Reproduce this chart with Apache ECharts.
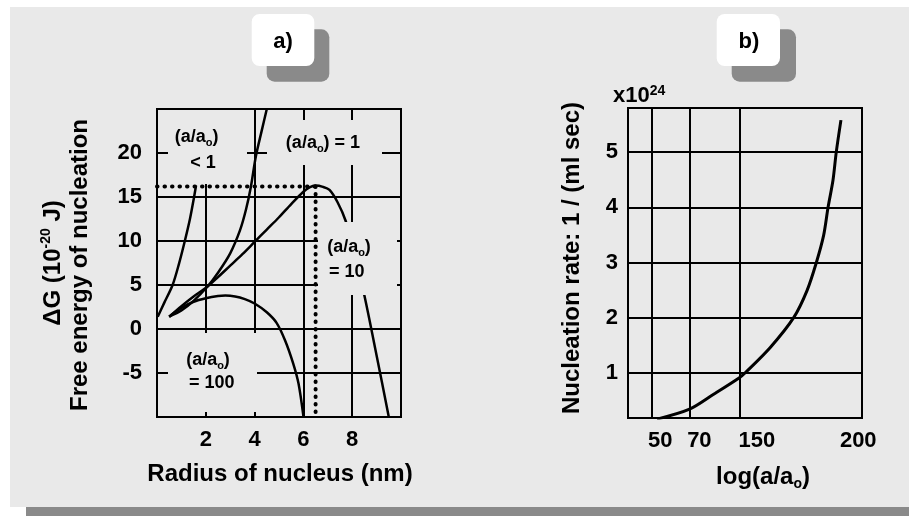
<!DOCTYPE html>
<html><head><meta charset="utf-8">
<script src="https://cdn.jsdelivr.net/npm/echarts@6/dist/echarts.min.js"></script>
<style>
html,body{margin:0;padding:0;background:#fff;}
#wrap{position:relative;width:909px;height:516px;overflow:hidden;background:#fff;}
#panel{position:absolute;left:10px;top:7px;width:899px;height:500px;background:#e9e9e9;}
#shadow{position:absolute;left:26px;top:507px;width:883px;height:9px;background:#8a8a8a;}
#chart{position:absolute;left:0;top:0;width:909px;height:516px;}
</style></head><body>
<div id="wrap"><div id="panel"></div><div id="shadow"></div><div id="chart"></div></div>
<script>
// ---------- Panel a) : free energy of nucleation vs radius ----------
const aXTicks = [2, 4, 6, 8];
const curveLess1 = [[0.03,1.4],[0.3,3.0],[0.64,5.0],[0.9,7.4],[1.14,10.0],[1.35,12.5],[1.52,15.0],[1.6,16.3]];
const curveEq1 = [[0.5,1.4],[1.0,2.1],[1.5,3.2],[2.06,4.8],[2.5,6.4],[3.0,8.6],[3.4,11.2],[3.65,13.6],[3.85,16.2],[4.05,19.6],[4.28,22.4],[4.5,25.0]];
const curveEq10 = [[0.5,1.4],[1.0,2.6],[1.5,3.7],[2.06,4.8],[2.5,5.9],[3.0,7.2],[3.5,8.5],[4.0,9.9],[4.5,11.3],[5.0,12.7],[5.5,14.2],[6.0,15.6],[6.25,16.1],[6.5,16.3],[6.8,16.15],[7.07,15.8],[7.4,14.4],[7.73,12.3],[8.1,8.5],[8.5,3.8],[9.0,-3.0],[9.5,-10.0]];
const curveEq100 = [[0.5,1.4],[1.0,2.4],[1.5,3.1],[2.0,3.5],[2.5,3.75],[2.8,3.8],[3.2,3.7],[3.6,3.4],[4.0,2.9],[4.5,1.9],[4.9,0.7],[5.25,-1.3],[5.58,-3.9],[5.8,-6.2],[6.0,-9.9]];
const critRadius = 6.5;
const critEnergy = 16.2;

// ---------- Panel b) : nucleation rate ----------
const bTickLabels = ['50', '70', '150', '200'];
const bLabelPos = [13.8, 30.5, 55.1, 98.4];   // label positions along the axis (0..100)
const bGridPos = [10.3, 26.3, 47.6];          // grid line positions along the axis (0..100)
const bYTicks = [1, 2, 3, 4, 5];
const rateCurve = [[12.4,0.16],[26.3,0.34],[36.6,0.61],[47.6,0.91],[50.1,1.0],[60.8,1.46],[70.8,2.0],[76.5,2.49],[80.5,3.0],[83.6,3.49],[85.5,4.0],[87.6,4.49],[89.0,5.0],[91.0,5.58]];

const FONT = '"Liberation Sans", Arial, Helvetica, sans-serif';
const BG = '#e9e9e9';
const tickLabel = {fontFamily: FONT, fontWeight: 'bold', fontSize: 22, color: '#000'};
const gridLine = {show: true, lineStyle: {color: '#000', width: 2}};

const richBase = {
  t: {fontFamily: FONT, fontWeight: 'bold', fontSize: 18, lineHeight: 22, fill: '#000'},
  s: {fontFamily: FONT, fontWeight: 'bold', fontSize: 11, lineHeight: 8, verticalAlign: 'bottom', fill: '#000'}
};
const richName = {
  t: {fontFamily: FONT, fontWeight: 'bold', fontSize: 24, lineHeight: 28, fill: '#000'},
  s: {fontFamily: FONT, fontWeight: 'bold', fontSize: 14, lineHeight: 10, verticalAlign: 'bottom', fill: '#000'},
  p: {fontFamily: FONT, fontWeight: 'bold', fontSize: 14, lineHeight: 14, verticalAlign: 'top', fill: '#000'}
};

function txt(x, y, text, rich, rot) {
  return {type: 'text', x: x, y: y, z: 101, rotation: rot || 0, silent: true,
    style: {text: text, rich: rich, fill: '#000', align: 'center', verticalAlign: 'middle',
      textAlign: 'center', textVerticalAlign: 'middle', font: 'bold 18px ' + FONT}};
}
function mask(x, y, w, h) {
  return {type: 'rect', z: 100, silent: true, shape: {x: x, y: y, width: w, height: h}, style: {fill: BG}};
}
function box(x, y, w, h, fill, z) {
  return {type: 'rect', z: z, silent: true, shape: {x: x, y: y, width: w, height: h, r: 8}, style: {fill: fill}};
}

const lineSeries = (data) => ({
  type: 'line', xAxisIndex: 0, yAxisIndex: 0, data: data, showSymbol: false, symbol: 'none',
  smooth: 0.3, clip: true, lineStyle: {color: '#000', width: 2.5}, z: 3
});
const dotted = (data) => ({
  type: 'line', xAxisIndex: 0, yAxisIndex: 0, data: data, showSymbol: false, symbol: 'none', clip: true,
  lineStyle: {color: '#000', width: 4, type: [0.5, 7], cap: 'round'}, z: 4
});

const chart = echarts.init(document.getElementById('chart'), null, {renderer: 'canvas'});
chart.setOption({
  backgroundColor: 'transparent',
  animation: false,
  grid: [
    {left: 157, top: 109, width: 244, height: 308, show: true, borderColor: '#000', borderWidth: 2, backgroundColor: 'transparent', containLabel: false, outerBoundsMode: 'none'},
    {left: 628, top: 108, width: 234, height: 310, show: true, borderColor: '#000', borderWidth: 2, backgroundColor: 'transparent', containLabel: false, outerBoundsMode: 'none'}
  ],
  xAxis: [
    {gridIndex: 0, type: 'value', min: 0, max: 10, interval: 2,
      axisLine: {show: false}, axisTick: {show: false},
      axisLabel: Object.assign({showMinLabel: false, showMaxLabel: false, margin: 12}, tickLabel),
      splitLine: gridLine},
    {gridIndex: 1, type: 'value', min: 0, max: 100,
      axisLine: {show: false}, axisTick: {show: false, customValues: bGridPos},
      axisLabel: Object.assign({customValues: bLabelPos, margin: 12,
        formatter: (v) => { const i = bLabelPos.indexOf(v); return i >= 0 ? bTickLabels[i] : ''; }}, tickLabel),
      splitLine: gridLine}
  ],
  yAxis: [
    {gridIndex: 0, type: 'value', min: -10, max: 25, interval: 5,
      axisLine: {show: false}, axisTick: {show: false},
      axisLabel: Object.assign({showMinLabel: false, showMaxLabel: false, margin: 15}, tickLabel),
      splitLine: gridLine},
    {gridIndex: 1, type: 'value', min: 0.18, max: 5.8,
      axisLine: {show: false}, axisTick: {show: false, customValues: bYTicks},
      axisLabel: Object.assign({customValues: bYTicks, margin: 10}, tickLabel),
      splitLine: gridLine}
  ],
  series: [
    lineSeries(curveLess1),
    lineSeries(curveEq1),
    lineSeries(curveEq10),
    lineSeries(curveEq100),
    dotted([[0, critEnergy], [critRadius, critEnergy]]),
    dotted([[critRadius, critEnergy], [critRadius, -10]]),
    {type: 'line', xAxisIndex: 1, yAxisIndex: 1, data: rateCurve, showSymbol: false, symbol: 'none',
      smooth: 0.3, clip: true, lineStyle: {color: '#000', width: 3}, z: 3}
  ],
  graphic: {elements: [
    // panel titles
    box(266.7, 29.3, 62.6, 52.4, '#8a8a8a', 90),
    box(251.7, 14, 62.6, 52, '#ffffff', 91),
    txt(283, 42, '{t|a)}', {t: {fontFamily: FONT, fontWeight: 'bold', fontSize: 22, fill: '#000'}}),
    box(731.7, 29.3, 64.3, 52.4, '#8a8a8a', 90),
    box(716.7, 14, 63.3, 52, '#ffffff', 91),
    txt(749, 42, '{t|b)}', {t: {fontFamily: FONT, fontWeight: 'bold', fontSize: 22, fill: '#000'}}),
    // curve label masks
    mask(168, 110, 79, 74),
    mask(267, 120, 115, 45),
    mask(318, 222, 79, 73),
    mask(168, 333, 89, 79),
    // curve labels
    txt(196.7, 137, '{t|(a/a}{s|o}{t|)}', richBase),
    txt(203, 163, '{t|< 1}', richBase),
    txt(323, 143, '{t|(a/a}{s|o}{t|) = 1}', richBase),
    txt(349, 247, '{t|(a/a}{s|o}{t|)}', richBase),
    txt(346.7, 272, '{t|= 10}', richBase),
    txt(208, 360, '{t|(a/a}{s|o}{t|)}', richBase),
    txt(211.7, 383, '{t|= 100}', richBase),
    // axis names
    txt(280, 474, '{t|Radius of nucleus (nm)}', richName),
    txt(763, 477, '{t|log(a/a}{s|o}{t|)}', richName),
    txt(53, 263, '{t|ΔG (10}{p|-20}{t| J)}', richName, Math.PI / 2),
    txt(80.5, 265, '{t|Free energy of nucleation}', richName, Math.PI / 2),
    txt(572, 258, '{t|Nucleation rate: 1 / (ml sec)}', richName, Math.PI / 2),
    {type: 'text', x: 613, y: 96, z: 101, silent: true,
      style: {text: '{t|x10}{p|24}', rich: {
        t: {fontFamily: FONT, fontWeight: 'bold', fontSize: 22, lineHeight: 24, fill: '#000'},
        p: {fontFamily: FONT, fontWeight: 'bold', fontSize: 14, lineHeight: 14, verticalAlign: 'top', fill: '#000'}},
        align: 'left', verticalAlign: 'middle', textAlign: 'left', textVerticalAlign: 'middle', fill: '#000'}}
  ]}
});
</script></body></html>
